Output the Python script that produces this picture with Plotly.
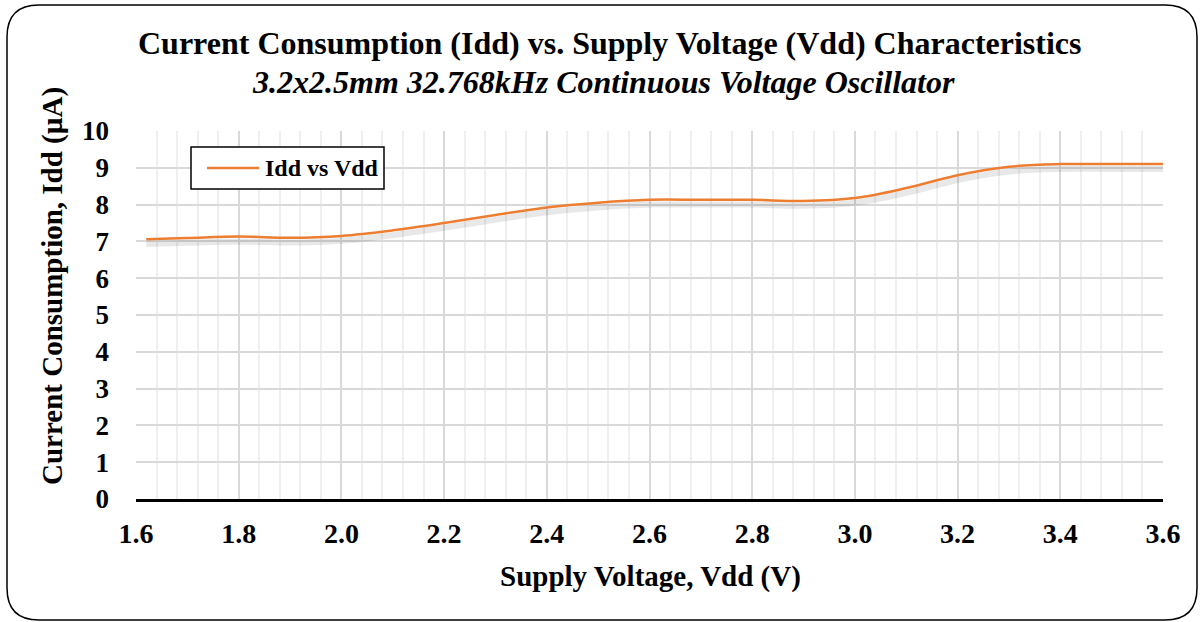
import plotly.graph_objects as go

vdd = [1.62, 1.7, 1.8, 1.9, 2.0, 2.1, 2.2, 2.3, 2.4, 2.5, 2.6, 2.7, 2.8, 2.9, 3.0, 3.1, 3.2, 3.3, 3.4, 3.5, 3.6]
idd = [7.06, 7.09, 7.13, 7.10, 7.15, 7.30, 7.50, 7.72, 7.92, 8.05, 8.13, 8.13, 8.13, 8.10, 8.18, 8.45, 8.80, 9.03, 9.10, 9.10, 9.10]
x_ticks = [1.6, 1.8, 2.0, 2.2, 2.4, 2.6, 2.8, 3.0, 3.2, 3.4, 3.6]
y_ticks = list(range(0, 11))
series_name = "Idd vs Vdd"
title = "Current Consumption (Idd) vs. Supply Voltage (Vdd) Characteristics"
subtitle = "3.2x2.5mm 32.768kHz Continuous Voltage Oscillator"
x_title = "Supply Voltage, Vdd (V)"
y_title = "Current Consumption, Idd (µA)"

W, H = 1202, 622
L, R, T, B = 136, 39, 131, 123
PW, PH = W - L - R, H - T - B
LINE_COLOR = "#ED7D31"

def px(X):
    return (X - L) / PW

def py(Y):
    return (H - B - Y) / PH

FONT = "Liberation Serif"

fig = go.Figure()
# soft shadow under the line (same data, drawn on a slightly shifted overlay axis)
fig.add_trace(go.Scatter(x=vdd, y=idd, mode="lines", line=dict(color="rgba(0,0,0,0.09)", width=6, shape="spline"),
                         yaxis="y2", showlegend=False, hoverinfo="skip"))
fig.add_trace(go.Scatter(x=vdd, y=idd, mode="lines", name=series_name, showlegend=False,
                         line=dict(color=LINE_COLOR, width=2.5, shape="spline")))

# rounded outer frame
x0, x1 = px(7), px(1197)
y0, y1 = py(620), py(5)
rx, ry = 32 / PW, 32 / PH
path = (f"M {x0+rx},{y1} L {x1-rx},{y1} Q {x1},{y1} {x1},{y1-ry} "
        f"L {x1},{y0+ry} Q {x1},{y0} {x1-rx},{y0} L {x0+rx},{y0} Q {x0},{y0} {x0},{y0+ry} "
        f"L {x0},{y1-ry} Q {x0},{y1} {x0+rx},{y1} Z")
fig.add_shape(type="path", path=path, xref="paper", yref="paper", line=dict(color="black", width=1.5))

# legend box (drawn to match the reference layout)
fig.add_shape(type="rect", xref="paper", yref="paper", x0=px(191), x1=px(384), y0=py(189), y1=py(147),
              line=dict(color="black", width=1.5), fillcolor="white", layer="above")
fig.add_shape(type="line", xref="paper", yref="paper", x0=px(207), x1=px(259), y0=py(168), y1=py(168),
              line=dict(color=LINE_COLOR, width=2.5), layer="above")
fig.add_annotation(text=series_name, xref="paper", yref="paper", x=px(263), y=py(168), showarrow=False,
                   font=dict(family=FONT, size=24, color="black", weight="bold"), xanchor="left", yanchor="middle")

fig.add_annotation(text=title, xref="paper", yref="paper", x=px(610), y=py(43), showarrow=False,
                   font=dict(family=FONT, size=32, color="black", weight="bold"), xanchor="center", yanchor="middle")
fig.add_annotation(text=subtitle, xref="paper", yref="paper", x=px(603), y=py(82), showarrow=False,
                   font=dict(family=FONT, size=32, color="black", weight="bold", style="italic"),
                   xanchor="center", yanchor="middle")
fig.add_annotation(text=x_title, xref="paper", yref="paper", x=px(650), y=py(576), showarrow=False,
                   font=dict(family=FONT, size=29, color="black", weight="bold"), xanchor="center", yanchor="middle")
fig.add_annotation(text=y_title, xref="paper", yref="paper", x=px(52), y=py(286), showarrow=False, textangle=-90,
                   font=dict(family=FONT, size=29, color="black", weight="bold"), xanchor="center", yanchor="middle")

fig.update_layout(
    width=W, height=H,
    margin=dict(l=L, r=R, t=T, b=B),
    paper_bgcolor="white", plot_bgcolor="white",
    font=dict(family=FONT, color="black"),
    xaxis=dict(range=[1.6, 3.6], tickvals=x_ticks, ticktext=[f"{v:.1f}" for v in x_ticks],
               showgrid=True, gridcolor="#d9d9d9", gridwidth=1.5,
               minor=dict(dtick=0.04, tick0=1.6, showgrid=True, gridcolor="#efefef", gridwidth=1.5),
               showline=True, linecolor="black", linewidth=2.5, zeroline=False,
               ticks="", ticklabelstandoff=8,
               tickfont=dict(family=FONT, size=28, weight="bold")),
    yaxis=dict(range=[0, 10], tickvals=y_ticks, showgrid=True, gridcolor="#d9d9d9", gridwidth=1.5,
               showline=False, zeroline=False, ticks="", ticklabelstandoff=26,
               tickfont=dict(family=FONT, size=27, weight="bold")),
    yaxis2=dict(range=[0.13, 10.13], overlaying="y", visible=False),
    showlegend=False,
)

fig.write_html("out.html", config={"displayModeBar": False},
               post_script="document.body.style.margin='0';")
